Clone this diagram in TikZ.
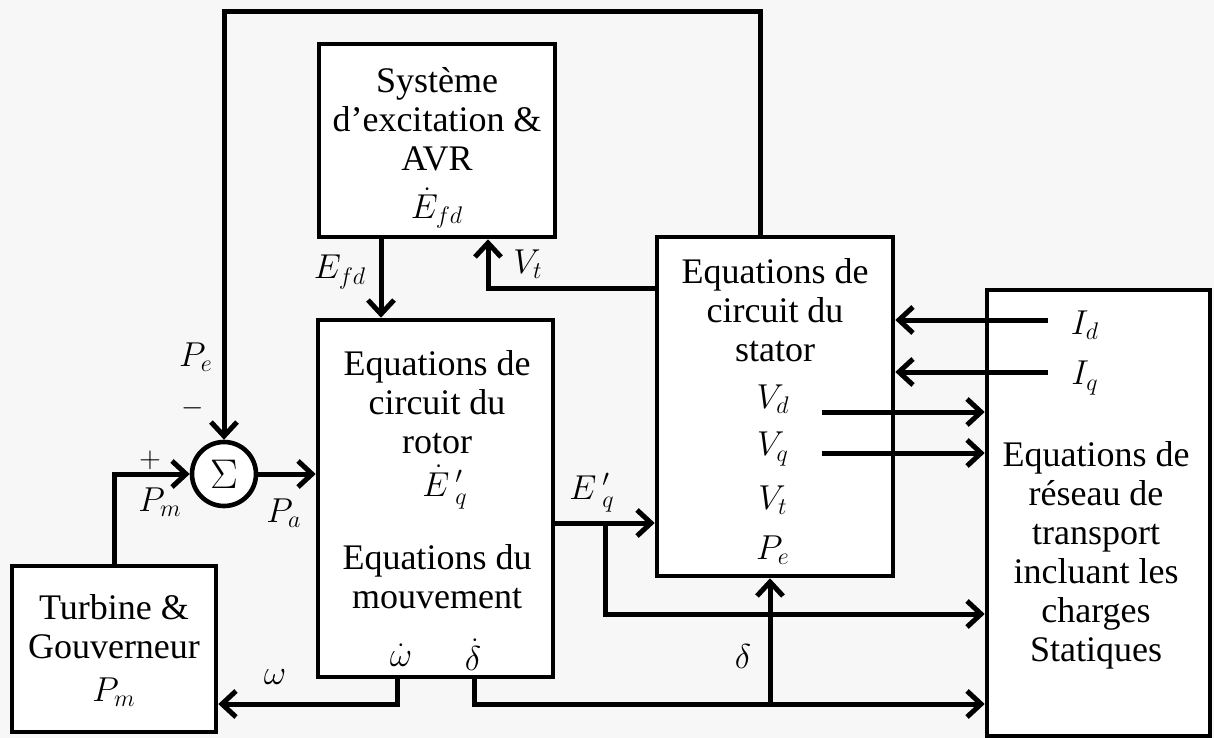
\documentclass[tikz,border=0pt]{standalone}
\usepackage{fontspec}
\setmainfont{Liberation Serif}
\usetikzlibrary{arrows.meta,positioning}

\definecolor{paper}{HTML}{F7F7F7}

\tikzset{
  blk/.style={draw, line width=2.3pt, fill=white, inner sep=0pt},
  lbl/.style={font=\fontsize{18}{19.5}\selectfont, align=center, inner sep=1pt},
  sig/.style={font=\fontsize{18}{19.5}\selectfont, inner sep=1pt},
  wire/.style={line width=2.5pt},
  arr/.style={wire, -{Straight Barb[length=7pt,width=13pt]}}
}

\begin{document}
\begin{tikzpicture}[x=0.5pt, y=-0.5pt]
  \useasboundingbox (0,0) rectangle (1214,738);
  \fill[paper] (0,0) rectangle (1214,738);

  % blocks
  \node[blk, minimum width=118pt, minimum height=96.5pt] (avr) at (437,140.5) {};
  \node[blk, minimum width=117.5pt, minimum height=178.5pt] (rotor) at (435.5,498.5) {};
  \node[blk, minimum width=118pt, minimum height=169.5pt] (stator) at (775,406.5) {};
  \node[blk, minimum width=102pt, minimum height=83pt] (turb) at (114,649) {};
  \node[blk, minimum width=111.5pt, minimum height=223pt] (net) at (1098.5,513) {};
  \node[blk, circle, minimum size=32pt, font=\fontsize{21}{22}\selectfont] (sum) at (224,474) {$\Sigma$};

  % block texts
  \node[lbl] (avrtxt) at (437,119) {Système\\d’excitation \&\\AVR};
  \node[sig] (efddot) at (437,208) {$\dot{E}_{fd}$};
  \node[lbl] (rottxt) at (437,402) {Equations de\\circuit du\\rotor};
  \node[sig] (eqdot) at (445,487) {$\dot{E}\,'_{q}$};
  \node[lbl] (movtxt) at (437,577) {Equations du\\mouvement};
  \node[sig] (wdot) at (401,655) {$\dot{\omega}$};
  \node[sig] (ddot) at (473,655) {$\dot{\delta}$};
  \node[lbl] (stattxt) at (775,310) {Equations de\\circuit du\\stator};
  \node[sig] (vd) at (773,399) {$V_{d}$};
  \node[sig] (vq) at (773,449) {$V_{q}$};
  \node[sig] (vt) at (773,500) {$V_{t}$};
  \node[sig] (pe) at (773,550) {$P_{e}$};
  \node[lbl] (turbtxt) at (114,627) {Turbine \&\\Gouverneur};
  \node[sig] (pmt) at (114,692) {$P_{m}$};
  \node[lbl] (nettxt) at (1096,555) {Equations de\\réseau de\\transport\\incluant les\\charges\\Statiques};
  \node[sig] (id) at (1085,325) {$I_{d}$};
  \node[sig] (iq) at (1085,378) {$I_{q}$};

  % signal labels
  \node[sig] (lpe) at (196,357) {$P_{e}$};
  \node[sig, font=\fontsize{15}{15}\selectfont] (lminus) at (193,408) {$-$};
  \node[sig, font=\fontsize{15}{15}\selectfont] (lplus) at (150,460) {$+$};
  \node[sig] (lpm) at (160,502) {$P_{m}$};
  \node[sig] (lpa) at (284,513) {$P_{a}$};
  \node[sig] (lefd) at (340,272) {$E_{fd}$};
  \node[sig] (lvt) at (528,264) {$V_{t}$};
  \node[sig] (leq) at (592,493) {$E\,'_{q}$};
  \node[sig] (ldelta) at (743,656) {$\delta$};
  \node[sig] (lomega) at (275,677) {$\omega$};

  % helper coordinates
  \coordinate (topy) at (0,12);
  \coordinate (fbx) at (760,0);
  \coordinate (efdx) at (381,0);
  \coordinate (vtx) at (488,0);
  \coordinate (vty) at (0,288);
  \coordinate (eqy) at (0,523);
  \coordinate (eqbr) at (605,523);
  \coordinate (bry) at (0,614);
  \coordinate (wx) at (397,0);
  \coordinate (dx) at (474,0);
  \coordinate (boty) at (0,704);
  \coordinate (dbr) at (770,704);
  \coordinate (idtail) at (1048,320);
  \coordinate (iqtail) at (1048,372);
  \coordinate (vdtail) at (822,412);
  \coordinate (vqtail) at (822,453);

  % connectors
  \draw[arr] (stator.north -| fbx) |- (topy -| sum.north) -- (sum.north);
  \draw[arr] (turb.north) |- (sum.west);
  \draw[arr] (sum.east) -- (sum.east -| rotor.west);
  \draw[arr] (avr.south -| efdx) -- (rotor.north -| efdx);
  \draw[arr] (vty -| stator.west) -| (avr.south -| vtx);
  \draw[arr] (eqy -| rotor.east) -- (eqy -| stator.west);
  \draw[arr] (eqbr) |- (bry -| net.west);
  \draw[arr] (rotor.south -| dx) |- (boty -| net.west);
  \draw[arr] (dbr) -- (dbr |- stator.south);
  \draw[arr] (rotor.south -| wx) |- (boty -| turb.east);
  \draw[arr] (idtail) -- (idtail -| stator.east);
  \draw[arr] (iqtail) -- (iqtail -| stator.east);
  \draw[arr] (vdtail) -- (vdtail -| net.west);
  \draw[arr] (vqtail) -- (vqtail -| net.west);
\end{tikzpicture}
\end{document}
